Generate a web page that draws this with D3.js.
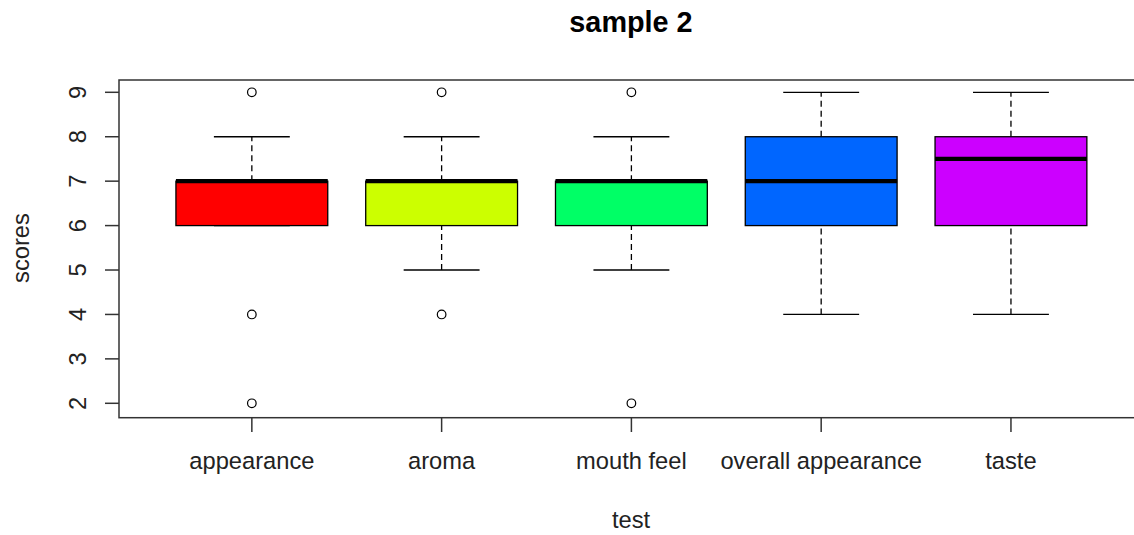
<!DOCTYPE html>
<html><head><meta charset="utf-8">
<script src="https://cdn.jsdelivr.net/npm/d3@7"></script>
<style>body{margin:0;background:#fff}svg{display:block}</style>
</head><body>
<script>
const categories = ["appearance","aroma","mouth feel","overall appearance","taste"];
const colors = ["#FF0000","#CCFF00","#00FF66","#0066FF","#CC00FF"];
const lowerWhisker = [6,5,5,4,4];
const q1 = [6,6,6,6,6];
const median = [7,7,7,7,7.5];
const q3 = [7,7,7,8,8];
const upperWhisker = [8,8,8,9,9];
const outliers = [[9,4,2],[9,4],[9,2],[],[]];
const yTicks = [2,3,4,5,6,7,8,9];
const title = "sample 2", xTitle = "test", yTitle = "scores";

(function(){
const W = 1134, H = 535;
const svg = d3.select("body").append("svg").attr("width",W).attr("height",H);
const font = "Liberation Sans, Arial, sans-serif";
const fs = 23.7;
const x = d3.scaleLinear().domain([0.3,5.7]).range([119,1143.8]);
const y = d3.scaleLinear().domain([2,9]).range([403.3,92.3]);
const pL=119, pT=80, pB=417.7, pR=1143.8;

const g = svg.append("g");
categories.forEach((c,i)=>{
  const cx = x(i+1), hw = x(0.4)-x(0), cw = x(0.2)-x(0);
  [[q3[i],upperWhisker[i]],[lowerWhisker[i],q1[i]]].forEach(([a,b])=>{
    if (a!==b){
      g.append("line").attr("x1",cx).attr("x2",cx).attr("y1",y(a)).attr("y2",y(b))
        .attr("stroke","#000").attr("stroke-width",1.3).attr("stroke-dasharray","6,4");
    }
  });
  [upperWhisker[i],lowerWhisker[i]].forEach(v=>{
    g.append("line").attr("x1",cx-cw).attr("x2",cx+cw).attr("y1",y(v)).attr("y2",y(v))
      .attr("stroke","#000").attr("stroke-width",1.3);
  });
  g.append("rect").attr("x",cx-hw).attr("y",y(q3[i])).attr("width",2*hw).attr("height",y(q1[i])-y(q3[i]))
    .attr("fill",colors[i]).attr("stroke","#000").attr("stroke-width",1.3);
  g.append("line").attr("x1",cx-hw).attr("x2",cx+hw).attr("y1",y(median[i])).attr("y2",y(median[i]))
    .attr("stroke","#000").attr("stroke-width",4.3);
  outliers[i].forEach(v=>{
    g.append("circle").attr("cx",cx).attr("cy",y(v)).attr("r",4.3)
      .attr("fill","none").attr("stroke","#000").attr("stroke-width",1.2);
  });
});

svg.append("rect").attr("x",pL).attr("y",pT).attr("width",pR-pL).attr("height",pB-pT)
  .attr("fill","none").attr("stroke","#333").attr("stroke-width",1.5);

yTicks.forEach(t=>{
  svg.append("line").attr("x1",105).attr("x2",pL).attr("y1",y(t)).attr("y2",y(t)).attr("stroke","#333").attr("stroke-width",1.5);
  svg.append("text").attr("transform",`translate(86,${y(t)}) rotate(-90)`).attr("text-anchor","middle")
    .attr("font-family",font).attr("font-size",fs).attr("fill","#222").text(t);
});
categories.forEach((c,i)=>{
  const cx = x(i+1);
  svg.append("line").attr("x1",cx).attr("x2",cx).attr("y1",pB).attr("y2",432).attr("stroke","#333").attr("stroke-width",1.5);
  svg.append("text").attr("x",cx).attr("y",469).attr("text-anchor","middle")
    .attr("font-family",font).attr("font-size",fs).attr("fill","#222").text(c);
});
svg.append("text").attr("x",631).attr("y",528).attr("text-anchor","middle")
  .attr("font-family",font).attr("font-size",fs).attr("fill","#222").text(xTitle);
svg.append("text").attr("transform",`translate(29,248) rotate(-90)`).attr("text-anchor","middle")
  .attr("font-family",font).attr("font-size",fs).attr("fill","#222").text(yTitle);
svg.append("text").attr("x",631).attr("y",32).attr("text-anchor","middle")
  .attr("font-family",font).attr("font-size",28.8).attr("font-weight","bold").attr("fill","#000").text(title);
})();
</script>
</body></html>
